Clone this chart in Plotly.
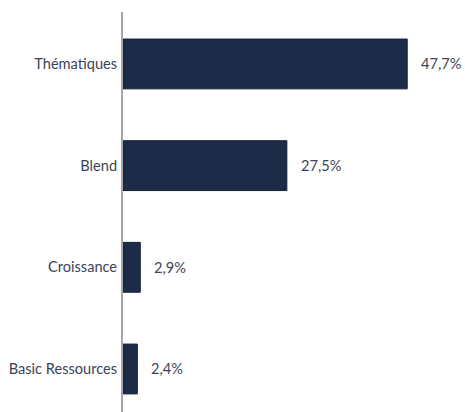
import plotly.graph_objects as go

categories = ["Basic Ressources", "Croissance", "Blend", "Thématiques"]
values = [2.4, 2.9, 27.5, 47.7]
labels = ["2,4%", "2,9%", "27,5%", "47,7%"]

bar_color = "#1c2b48"
text_color = "#3b4457"
fsize = 14.6

fig = go.Figure()
fig.add_trace(go.Bar(
    x=values, y=categories, orientation="h",
    marker=dict(color=bar_color, line=dict(color="#131f36", width=1)),
    width=0.49, hoverinfo="skip",
))
for v, c, t in zip(values, categories, labels):
    fig.add_annotation(x=v, y=c, text=t, showarrow=False, xanchor="left",
                       xshift=12, font=dict(family="Lato", size=fsize, color=text_color))

fig.update_layout(
    width=465, height=412,
    margin=dict(l=123, r=0, t=12, b=0, autoexpand=False),
    plot_bgcolor="white", paper_bgcolor="white",
    showlegend=False,
    font=dict(family="Lato", size=fsize, color=text_color),
    xaxis=dict(range=[0, 57.4], visible=False, showgrid=False, zeroline=False,
               automargin=False),
    yaxis=dict(range=[-0.423, 3.511], showline=True, linecolor="#a6a6a6", linewidth=2,
               showgrid=False, zeroline=False, ticks="", ticklabelstandoff=1,
               automargin=False,
               tickfont=dict(family="Lato", size=fsize, color=text_color)),
)
fig.write_html(
    "out.html",
    config={"displayModeBar": False},
    post_script="document.body.style.margin='0';document.body.style.overflow='hidden';",
)
